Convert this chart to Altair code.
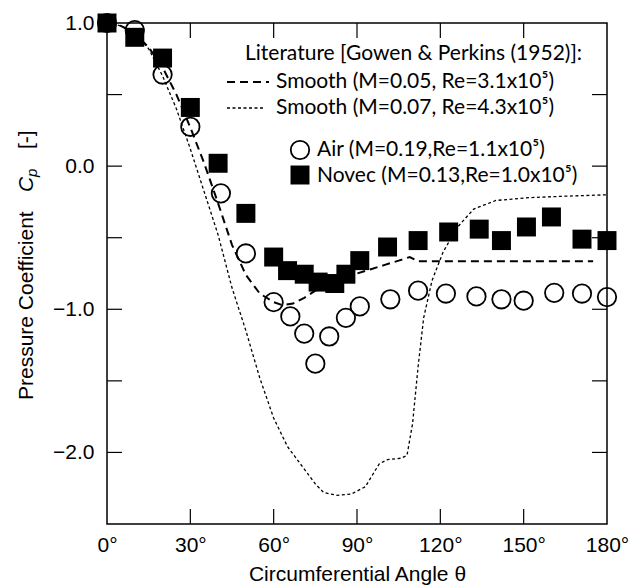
import altair as alt
import pandas as pd

# ---------------- data ----------------
air_theta = [0, 10, 20, 30, 41, 50, 60, 66, 71, 75, 80, 86, 91, 102, 112, 122, 133, 142, 150, 161, 171, 180]
air_cp = [1.0, 0.95, 0.64, 0.275, -0.19, -0.61, -0.95, -1.05, -1.17, -1.38, -1.19, -1.06, -0.98,
          -0.93, -0.87, -0.89, -0.91, -0.93, -0.94, -0.885, -0.89, -0.915]

novec_theta = [0, 10, 20, 30, 40, 50, 60, 65, 71, 76, 82, 86, 91, 101, 112, 123, 134, 142, 151, 160, 171, 180]
novec_cp = [1.0, 0.90, 0.755, 0.41, 0.02, -0.33, -0.635, -0.73, -0.755, -0.81, -0.82, -0.755, -0.66,
            -0.565, -0.52, -0.46, -0.44, -0.52, -0.425, -0.355, -0.51, -0.52]

lit1_theta = [0, 5, 10, 15, 20, 25, 30, 35, 40, 45, 50, 55, 60, 63, 67, 71, 75, 80, 85, 90, 95,
              100, 105, 109, 112, 120, 130, 150, 175]
lit1_cp = [1.0, 0.98, 0.93, 0.83, 0.69, 0.5, 0.27, 0.02, -0.26, -0.55, -0.76, -0.89, -0.95, -0.97,
           -0.96, -0.92, -0.87, -0.82, -0.78, -0.75, -0.72, -0.69, -0.66, -0.635, -0.665, -0.665,
           -0.665, -0.665, -0.665]

lit2_theta = [0, 5, 10, 15, 20, 25, 30, 35, 40, 45, 50, 55, 60, 65, 70, 75, 78, 83, 88, 93, 98,
              101, 106, 108, 110, 112, 114, 117, 121, 126, 132, 140, 152, 165, 180]
lit2_cp = [1.0, 0.98, 0.93, 0.82, 0.63, 0.40, 0.12, -0.18, -0.48, -0.85, -1.15, -1.48, -1.76, -1.96,
           -2.09, -2.22, -2.28, -2.30, -2.29, -2.24, -2.08, -2.05, -2.04, -2.02, -1.8, -1.4, -1.06,
           -0.8, -0.6, -0.43, -0.3, -0.24, -0.22, -0.21, -0.2]

x_tick_values = [0, 30, 60, 90, 120, 150, 180]
x_minor_ticks = [30, 60, 90, 120, 150]
y_label_values = [-2, -1, 0, 1]
y_minor_ticks = [-2.0, -1.5, -1.0, -0.5, 0.0, 0.5]

legend_title = "Literature [Gowen & Perkins (1952)]:"
legend_lit1 = "Smooth (M=0.05, Re=3.1x10⁵)"
legend_lit2 = "Smooth (M=0.07, Re=4.3x10⁵)"
legend_air = "Air (M=0.19,Re=1.1x10⁵)"
legend_novec = "Novec (M=0.13,Re=1.0x10⁵)"

# ---------------- chart ----------------
W, H = 500, 501
AX_FONT = "Liberation Sans"
LEG_FONT = "Lato"

xscale = alt.Scale(domain=[0, 180], nice=False, zero=False)
yscale = alt.Scale(domain=[-2.5, 1.0], nice=False, zero=False)

xaxis = alt.Axis(values=x_tick_values, labelExpr="datum.value + '°'", ticks=False, domain=False,
                 grid=False, labelFontSize=21, labelFont=AX_FONT, labelColor="black",
                 labelPadding=10, labelFlush=False, title="Circumferential Angle θ",
                 titleFont=AX_FONT, titleFontSize=21, titleFontWeight="normal",
                 titleColor="black", titlePadding=8)
yaxis = alt.Axis(values=y_label_values, format=".1f", ticks=False, domain=False, grid=False,
                 labelFontSize=21, labelFont=AX_FONT, labelColor="black", labelPadding=13,
                 labelFlush=False, title=None)


def X(f):
    return alt.X(f, type="quantitative", scale=xscale, axis=xaxis)


def Y(f):
    return alt.Y(f, type="quantitative", scale=yscale, axis=yaxis)


air = pd.DataFrame({"theta": air_theta, "cp": air_cp})
novec = pd.DataFrame({"theta": novec_theta, "cp": novec_cp})
lit1 = pd.DataFrame({"theta": lit1_theta, "cp": lit1_cp})
lit2 = pd.DataFrame({"theta": lit2_theta, "cp": lit2_cp})
xt = pd.DataFrame({"theta": x_minor_ticks})
yt = pd.DataFrame({"cp": y_minor_ticks})
one = pd.DataFrame({"k": [0]})

TL = 15
tick_style = dict(color="black", strokeWidth=1.2)
ticks_bottom = alt.Chart(xt).mark_rule(**tick_style).encode(x=X("theta"), y=alt.value(H - TL), y2=alt.value(H))
ticks_top = alt.Chart(xt).mark_rule(**tick_style).encode(x=X("theta"), y=alt.value(0), y2=alt.value(TL))
ticks_left = alt.Chart(yt).mark_rule(**tick_style).encode(y=Y("cp"), x=alt.value(0), x2=alt.value(TL))
ticks_right = alt.Chart(yt).mark_rule(**tick_style).encode(y=Y("cp"), x=alt.value(W - TL), x2=alt.value(W))

line1 = alt.Chart(lit1).mark_line(color="black", strokeWidth=2, strokeDash=[8, 5]).encode(
    x=X("theta"), y=Y("cp"), order="theta:Q")
line2 = alt.Chart(lit2).mark_line(color="black", strokeWidth=1.3, strokeDash=[3, 2.5]).encode(
    x=X("theta"), y=Y("cp"), order="theta:Q")

circles = alt.Chart(air).mark_point(shape="circle", filled=False, color="black", strokeWidth=1.8,
                                    size=340, opacity=1, clip=False).encode(x=X("theta"), y=Y("cp"))
squares = alt.Chart(novec).mark_point(shape="square", filled=True, color="black", size=360,
                                      opacity=1, clip=False).encode(x=X("theta"), y=Y("cp"))

# ---------------- legend (drawn inside plot) ----------------
def ltext(txt, x, y, **kw):
    return alt.Chart(one).mark_text(text=txt, align="left", baseline="middle", font=LEG_FONT,
                                    fontSize=21, color="black", **kw).encode(
        x=alt.value(x), y=alt.value(y))


leg = [
    ltext(legend_title, 138, 31),
    alt.Chart(one).mark_rule(color="black", strokeWidth=2, strokeDash=[8, 5]).encode(
        x=alt.value(120), x2=alt.value(162), y=alt.value(59)),
    ltext(legend_lit1, 169, 59),
    alt.Chart(one).mark_rule(color="black", strokeWidth=1.3, strokeDash=[3, 2.5]).encode(
        x=alt.value(120), x2=alt.value(157), y=alt.value(85)),
    ltext(legend_lit2, 169, 85),
    alt.Chart(one).mark_point(shape="circle", filled=False, color="black", strokeWidth=1.8,
                              size=340, opacity=1).encode(x=alt.value(193), y=alt.value(127)),
    ltext(legend_air, 210, 127),
    alt.Chart(one).mark_point(shape="square", filled=True, color="black", size=360,
                              opacity=1).encode(x=alt.value(193), y=alt.value(152)),
    ltext(legend_novec, 210, 153),
]

# ---------------- y-axis title: Pressure Coefficient  C_p  [-] ----------------
def ytext(txt, x, y, size=21, style="normal"):
    return alt.Chart(one).mark_text(text=txt, align="left", baseline="middle", angle=270,
                                    font=AX_FONT, fontSize=size, fontStyle=style,
                                    color="black").encode(x=alt.value(x), y=alt.value(y))


ytitle = [
    ytext("Pressure Coefficient", -80, 377),
    ytext("C", -80, 169, style="italic"),
    ytext("p", -75, 154, size=15, style="italic"),
    ytext("[-]", -80, 126),
]

chart = alt.layer(
    ticks_bottom, ticks_top, ticks_left, ticks_right,
    line2, line1, circles, squares, *leg, *ytitle
).properties(
    width=W, height=H,
    autosize=alt.AutoSizeParams(type="none"),
    padding={"left": 107, "top": 23, "right": 36, "bottom": 64},
).configure_view(stroke="black", strokeWidth=1.5)

chart.save("out.html", embed_options={"renderer": "svg", "actions": False})
